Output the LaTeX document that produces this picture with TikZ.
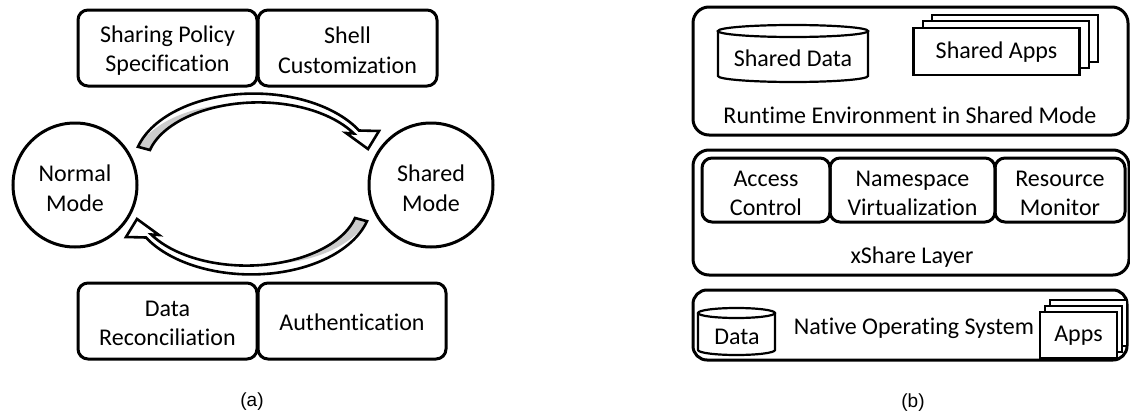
\documentclass[tikz,border=0pt]{standalone}
\usepackage{fontspec}
\setmainfont{Carlito}[Ligatures={NoCommon,NoContextual}]
\newfontfamily\capfont{Liberation Sans}
\newcommand\lbl{\fontsize{24}{29.5}\selectfont}
\newcommand\caplbl{\capfont\fontsize{19}{22}\selectfont}
% half-width of the curved arrow band at angle \x
\newcommand\bw{(3+3.2*(\x-30)/135)}
% outline of one curved block arrow (tail at upper left, head at right)
\newcommand\arrowoutline{%
    plot[domain=165:30, samples=60] ({256+(116+\bw)*cos(\x)}, {166-(68+\bw)*sin(\x)})
    -- (379,131) -- (368,149) -- (346,133)
    -- plot[domain=30:165, samples=60] ({256+(116-\bw)*cos(\x)}, {166-(68-\bw)*sin(\x)})
    -- cycle}
\newcommand\modearrow{%
  \fill[white] \arrowoutline;
  \fill[gray!40]
    plot[domain=100:165, samples=40] ({256+(116+\bw*(2*(\x-100)/65-1))*cos(\x)}, {166-(68+\bw*(2*(\x-100)/65-1))*sin(\x)})
    -- plot[domain=165:100, samples=40] ({256+(116-\bw)*cos(\x)}, {166-(68-\bw)*sin(\x)})
    -- cycle;
  \draw[line width=2.6pt, line join=miter] \arrowoutline;
}
\begin{document}
\begin{tikzpicture}[x=1pt, y=-1pt, line width=3pt,
  box/.style={draw, rounded corners=10pt, inner sep=0pt},
  mode/.style={draw, circle, minimum size=124pt, inner sep=0pt},
  page/.style={draw, fill=white, line width=2.2pt, inner sep=0pt},
  txt/.style={inner sep=0pt, align=center, font=\lbl},
  captxt/.style={inner sep=0pt, font=\caplbl}]
\useasboundingbox (0,0) rectangle (1130,415);

% ---- (a) mode switching ----
\node[box, minimum width=179pt, minimum height=76pt] (policy) at (167.5,48) {};
\node[box, minimum width=179pt, minimum height=76pt] (shell) at (347.5,48) {};
\node[box, minimum width=179pt, minimum height=76pt] (recon) at (167.5,321) {};
\node[box, minimum width=188pt, minimum height=76pt] (auth) at (352,321) {};
\node[mode] (normal) at (75,185) {};
\node[mode] (shared) at (431,185) {};
\node[txt] (policytxt) at (167.5,50.5) {Sharing Policy\\Specification};
\node[txt] (shelltxt) at (347.5,50.5) {Shell\\Customization};
\node[txt] (recontxt) at (167.5,323.5) {Data\\Reconciliation};
\node[txt] (authtxt) at (352,322) {Authentication};
\node[txt] (normaltxt) at (75,188) {Normal\\Mode};
\node[txt] (sharedtxt) at (431,188) {Shared\\Mode};

\modearrow
\begin{scope}[rotate around={180:(252.5,184)}]
  \modearrow
\end{scope}

\node[captxt] (capa) at (252,402) {(a)};

% ---- (b) layered architecture ----
% runtime environment
\node[box, rounded corners=16pt, minimum width=435pt, minimum height=128pt] (runtime) at (910.5,71) {};
\draw[line width=2.2pt, fill=white] (718,31) -- (718,76) arc (180:360:75pt and 6pt) -- (868,31);
\draw[line width=2.2pt] (793,31) ellipse [x radius=75pt, y radius=6pt];
\node[txt] (shdata) at (793,58) {Shared Data};
\node[page, minimum width=166pt, minimum height=47pt] (sapps3) at (1015,38.5) {};
\node[page, minimum width=166pt, minimum height=47pt] (sapps2) at (1005.75,44.75) {};
\node[page, minimum width=166pt, minimum height=47pt] (sapps1) at (996.5,51.5) {};
\node[txt] (sappstxt) at (996.5,52) {Shared Apps};
\node[txt] (runtimelbl) at (910,115) {Runtime Environment in Shared Mode};

% xShare layer
\node[box, rounded corners=16pt, minimum width=436pt, minimum height=125pt] (xshare) at (911,212.5) {};
\node[box, minimum width=128pt, minimum height=64pt] (access) at (766,190) {};
\node[box, minimum width=165pt, minimum height=64pt] (names) at (912.5,190) {};
\node[box, minimum width=130pt, minimum height=64pt] (monitor) at (1060,190) {};
\node[txt] (accesstxt) at (766,193.5) {Access\\Control};
\node[txt] (namestxt) at (912.5,193.5) {Namespace\\Virtualization};
\node[txt] (monitortxt) at (1060,193.5) {Resource\\Monitor};
\node[txt] (xsharelbl) at (912,257) {xShare Layer};

% native operating system
\node[box, rounded corners=14pt, minimum width=434pt, minimum height=70pt] (native) at (910,325) {};
\draw[line width=2.2pt, fill=white] (698,313) -- (698,350) arc (180:360:38.5pt and 5pt) -- (775,313);
\draw[line width=2.2pt] (736.5,313) ellipse [x radius=38.5pt, y radius=5pt];
\node[txt] (data) at (737,337) {Data};
\node[txt] (nativelbl) at (914,328) {Native Operating System};
\node[page, minimum width=77pt, minimum height=46pt] (apps3) at (1088.5,323) {};
\node[page, minimum width=77pt, minimum height=46pt] (apps2) at (1083.5,329) {};
\node[page, minimum width=77pt, minimum height=46pt] (apps1) at (1078.5,335) {};
\node[txt] (appstxt) at (1078.5,336) {Apps};

\node[captxt] (capb) at (913,403) {(b)};
\end{tikzpicture}
\end{document}
